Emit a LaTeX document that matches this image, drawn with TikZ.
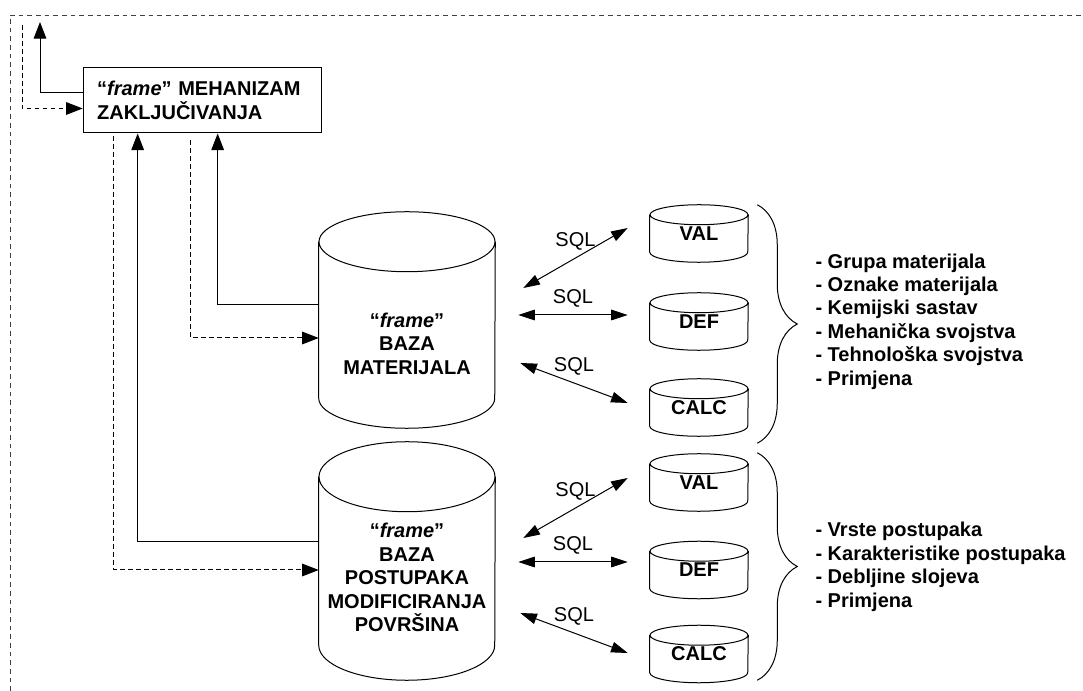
\documentclass[tikz,border=0pt]{standalone}
\usepackage{fontspec}
\setmainfont{Liberation Sans}
\usetikzlibrary{arrows.meta,positioning,calc,decorations.pathreplacing}

\begin{document}
\begin{tikzpicture}[
    x=0.75pt, y=-0.75pt,
    font=\fontsize{15}{17.6}\selectfont\bfseries,
    box/.style={rectangle, draw, line width=0.75pt, align=left, text width=158pt, inner xsep=10.5pt, minimum width=179pt, minimum height=48.75pt},
    bigdb/.style={rectangle, inner sep=0pt, minimum width=132pt},
    smalldb/.style={rectangle, inner sep=0pt, minimum width=73.5pt, minimum height=27.75pt},
    dbline/.style={line width=0.75pt},
    dbtxt/.style={align=center, inner sep=0pt},
    arr/.style={-{Triangle[length=12.5pt, width=9.5pt]}, line width=0.75pt},
    darr/.style={arr, dash pattern=on 3.5pt off 2.5pt},
    sqlarr/.style={{Triangle[length=12.5pt, width=8pt]}-{Triangle[length=12.5pt, width=8pt]}, line width=0.75pt},
    sqllab/.style={font=\fontsize{15}{17.6}\selectfont\mdseries, inner sep=0pt, yshift=12.5pt},
    brc/.style={decorate, decoration={brace, amplitude=30pt}, line width=0.75pt},
    lst/.style={align=left, anchor=west, inner sep=0pt},
    frm/.style={draw=black!75, line width=0.6pt, dash pattern=on 3.5pt off 3pt}
  ]
    \useasboundingbox (0,0) rectangle (1083,691);
    \draw[frm] (10,691) -- (10,15) -- (1083,15);

    \node[box] (mech) at (202.5,100.5) {“\textit{frame}” MEHANIZAM\\ZAKLJUČIVANJA};
    \coordinate (up1) at (40,22);
    \coordinate (up2) at (22,25);

    % frame databases
    \node[bigdb, minimum height=117pt] (matdb) at (407,320) {};
    \node[bigdb, minimum height=126pt] (postdb) at (407,561) {};
    \node[dbtxt] (mattxt) at ($(matdb.center)+(0,23.5)$) {“\textit{frame}”\\BAZA\\MATERIJALA};
    \node[dbtxt] (posttxt) at ($(postdb.center)+(0,16.5)$) {“\textit{frame}”\\BAZA\\POSTUPAKA\\MODIFICIRANJA\\POVRŠINA};

    \node[smalldb] (val1) at (699,233.5) {VAL};
    \node[smalldb] (def1) at (699,321.5) {DEF};
    \node[smalldb] (calc1) at (699,407.5) {CALC};
    \node[smalldb] (val2) at (699,482.5) {VAL};
    \node[smalldb] (def2) at (699,570) {DEF};
    \node[smalldb] (calc2) at (699,654) {CALC};

    \foreach \db/\rx/\ry in {matdb/88/30, postdb/88/35, val1/49/10, def1/49/10, calc1/49/10, val2/49/10, def2/49/10, calc2/49/10}
      \draw[dbline] (\db.north west) -- (\db.south west) arc[start angle=180, end angle=0, x radius=\rx, y radius=\ry] -- (\db.north east)
        (\db.north) ellipse[x radius=\rx, y radius=\ry];

    % inference engine <-> frame bases
    \draw[arr] ($(mech.west)+(0,-8)$) -| (up1);
    \draw[darr] (up2) |- ($(mech.west)+(0,8)$);
    \draw[darr] ($(mech.south west)+(31,3)$) |- ($(postdb.west)+(0,9)$);
    \draw[arr] ($(postdb.west)+(0,-19)$) -| ($(mech.south west)+(55,0)$);
    \draw[darr] ($(mech.south west)+(108,7)$) |- ($(matdb.west)+(0,18)$);
    \draw[arr] ($(matdb.west)+(0,-15)$) -| ($(mech.south west)+(135,0)$);

    % SQL links
    \draw[sqlarr] ($(matdb.east)+(28,-32)$) -- node[sqllab] {SQL} ($(val1.west)+(-22,-5.5)$);
    \draw[sqlarr] ($(matdb.east)+(23,-5)$) -- node[sqllab] {SQL} ($(def1.west)+(-22,-6.5)$);
    \draw[sqlarr] ($(matdb.east)+(25,43)$) -- node[sqllab] {SQL} ($(calc1.west)+(-22,-4.5)$);
    \draw[sqlarr] ($(postdb.east)+(28,-23)$) -- node[sqllab] {SQL} ($(val2.west)+(-22,-4.5)$);
    \draw[sqlarr] ($(postdb.east)+(23,1)$) -- node[sqllab] {SQL} ($(def2.west)+(-22,-8)$);
    \draw[sqlarr] ($(postdb.east)+(25,52)$) -- node[sqllab] {SQL} ($(calc2.west)+(-22,-1)$);

    % braces and contents
    \draw[brc] ($(val1.north east)+(9,-10)$) -- ($(calc1.south east)+(9,17)$);
    \draw[brc] ($(val2.north east)+(9,-11)$) -- ($(calc2.south east)+(9,7.5)$);
    \node[lst] (list1) at ($(def1.east)+(67,0)$) {- Grupa materijala\\- Oznake materijala\\- Kemijski sastav\\- Mehanička svojstva\\- Tehnološka svojstva\\- Primjena};
    \node[lst] (list2) at ($(def2.east)+(67,-3)$) {- Vrste postupaka\\- Karakteristike postupaka\\- Debljine slojeva\\- Primjena};
\end{tikzpicture}
\end{document}
